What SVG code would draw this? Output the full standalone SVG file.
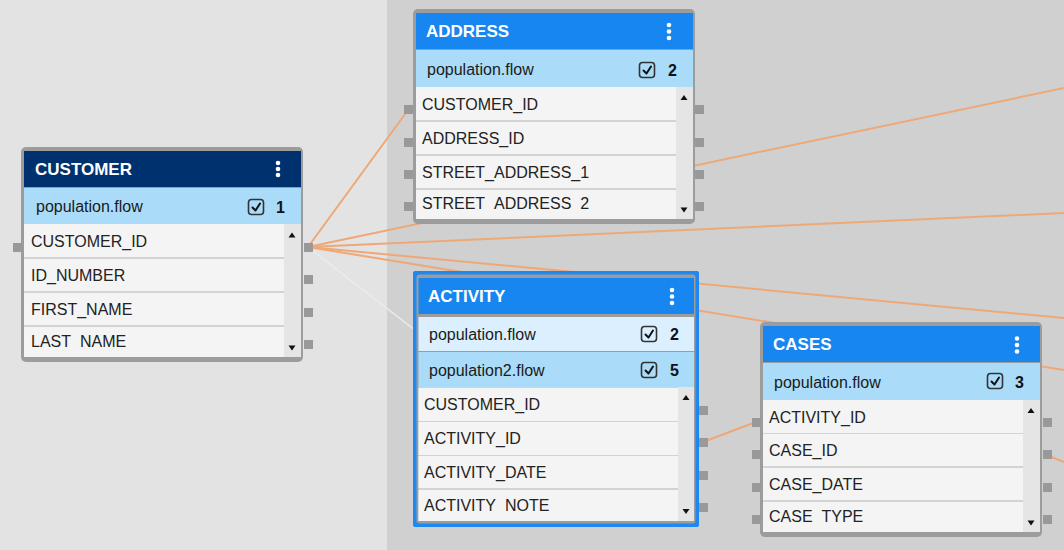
<svg xmlns="http://www.w3.org/2000/svg" width="1064" height="550" viewBox="0 0 1064 550">
<style>
.bgL{fill:#e3e3e3}.bgR{fill:#d0d0d0}
.frame{fill:#9c9c9c}
.hd{fill:#1786f0}.hdk{fill:#00316f}
.flow{fill:#aadcf9}.flow2{fill:#dcefff}
.rowbg{fill:#d3d3d3}.row{fill:#f4f4f4}.scroll{fill:#e5e5e5}
.port{fill:#999999}
.title{font-family:"Liberation Sans",Arial,sans-serif;font-weight:bold;font-size:17px;fill:#ffffff}
.ft{font-family:"Liberation Sans",Arial,sans-serif;font-size:16px;fill:#1a1a1a}
.rt{font-family:"Liberation Sans",Arial,sans-serif;font-size:16px;fill:#222222}
.num{font-family:"Liberation Sans",Arial,sans-serif;font-weight:bold;font-size:16px;fill:#111111}
.cb{fill:none;stroke:#333333;stroke-width:1.6}
.ck{fill:none;stroke:#111111;stroke-width:2;stroke-linecap:round;stroke-linejoin:round}
.dot{fill:#ffffff}
.arr{fill:#111111}
.conn{stroke:#eea878;stroke-width:2;fill:none}
.faint{stroke:#ececec;stroke-width:1.5;fill:none}
</style>
<defs>
<clipPath id="lastRow" clipPathUnits="userSpaceOnUse"><rect x="0" y="180" width="263" height="21"/></clipPath>
<clipPath id="lastRowAct" clipPathUnits="userSpaceOnUse"><rect x="418" y="490" width="260" height="22"/></clipPath>
</defs>
<rect class="bgL" x="0" y="0" width="387" height="550"/>
<rect class="bgR" x="387" y="0" width="677" height="550"/>

<g id="connectors">
<line class="faint" x1="309" y1="248" x2="420" y2="334"/>
<line class="conn" x1="308" y1="247" x2="408" y2="110"/>
<line class="conn" x1="308" y1="247" x2="1064" y2="88"/>
<line class="conn" x1="308" y1="247" x2="1064" y2="213"/>
<line class="conn" x1="308" y1="247" x2="1064" y2="318"/>
<line class="conn" x1="308" y1="247" x2="1064" y2="370"/>
<line class="conn" x1="703" y1="442" x2="756" y2="422"/>
<line class="conn" x1="1047" y1="455" x2="1064" y2="462"/>
</g>

<g id="node-customer" transform="translate(21,147)">
<rect class="frame" x="0" y="0" width="282" height="215" rx="5"/>
<rect class="hdk" x="3" y="4" width="277" height="36"/>
<rect class="flow" x="3" y="41" width="277" height="36"/>
<rect class="rowbg" x="3" y="77" width="277" height="133"/>
<rect class="row" x="3" y="77" width="260" height="33"/>
<rect class="row" x="3" y="112" width="260" height="32"/>
<rect class="row" x="3" y="146" width="260" height="32"/>
<rect class="row" x="3" y="180" width="260" height="30"/>
<rect class="scroll" x="263" y="77" width="17" height="133"/>
<path class="arr" d="M267.5,90.5 L274.5,90.5 L271,85.5 Z"/>
<path class="arr" d="M267.5,198.5 L274.5,198.5 L271,203.5 Z"/>
<text class="title" x="14" y="28">CUSTOMER</text>
<circle class="dot" cx="257" cy="16" r="2.3"/><circle class="dot" cx="257" cy="22" r="2.3"/><circle class="dot" cx="257" cy="28" r="2.3"/>
<text class="ft" x="15" y="65">population.flow</text>
<rect class="cb" x="227.5" y="52.5" width="15" height="15" rx="3"/>
<path class="ck" d="M231.5,60.5 L234.5,63.5 L239,56.5"/>
<text class="num" x="255" y="66">1</text>
<text class="rt" x="10" y="100">CUSTOMER_ID</text>
<text class="rt" x="10" y="134">ID_NUMBER</text>
<text class="rt" x="10" y="168">FIRST_NAME</text>
<text class="rt" x="10" y="200" clip-path="url(#lastRow)">LAST_NAME</text>
<rect class="port" x="-8" y="96" width="9" height="9"/>
<rect class="port" x="283" y="96" width="9" height="9"/>
<rect class="port" x="283" y="128" width="9" height="9"/>
<rect class="port" x="283" y="161" width="9" height="9"/>
<rect class="port" x="283" y="193" width="9" height="9"/>
</g>

<g id="node-address" transform="translate(413,9)">
<rect class="frame" x="0" y="0" width="282" height="215" rx="5"/>
<rect class="hd" x="3" y="4" width="277" height="36"/>
<rect class="flow" x="3" y="41" width="277" height="37"/>
<rect class="rowbg" x="3" y="78" width="277" height="132"/>
<rect class="row" x="3" y="78" width="260" height="33"/>
<rect class="row" x="3" y="113" width="260" height="32"/>
<rect class="row" x="3" y="147" width="260" height="32"/>
<rect class="row" x="3" y="181" width="260" height="29"/>
<rect class="scroll" x="263" y="78" width="17" height="132"/>
<path class="arr" d="M267.5,91 L274.5,91 L271,86 Z"/>
<path class="arr" d="M267.5,198.5 L274.5,198.5 L271,203.5 Z"/>
<text class="title" x="13" y="28">ADDRESS</text>
<circle class="dot" cx="256" cy="16" r="2.3"/><circle class="dot" cx="256" cy="22.5" r="2.3"/><circle class="dot" cx="256" cy="29" r="2.3"/>
<text class="ft" x="14" y="66">population.flow</text>
<rect class="cb" x="226.5" y="53.5" width="15" height="15" rx="3"/>
<path class="ck" d="M230.5,61.5 L233.5,64.5 L238,57.5"/>
<text class="num" x="255" y="67">2</text>
<text class="rt" x="9" y="101">CUSTOMER_ID</text>
<text class="rt" x="9" y="135">ADDRESS_ID</text>
<text class="rt" x="9" y="169">STREET_ADDRESS_1</text>
<text class="rt" x="9" y="200" clip-path="url(#lastRow)">STREET_ADDRESS_2</text>
<rect class="port" x="-9" y="96" width="9" height="9"/>
<rect class="port" x="-9" y="129" width="9" height="9"/>
<rect class="port" x="-9" y="161" width="9" height="9"/>
<rect class="port" x="-9" y="193" width="9" height="9"/>
<rect class="port" x="282" y="96" width="9" height="9"/>
<rect class="port" x="282" y="129" width="9" height="9"/>
<rect class="port" x="282" y="161" width="9" height="9"/>
<rect class="port" x="282" y="193" width="9" height="9"/>
</g>

<g id="node-activity">
<rect x="413" y="271" width="286" height="256" rx="2" fill="#1e88f0"/>
<rect class="frame" x="416.5" y="274.5" width="279" height="249" rx="3"/>
<rect class="hd" x="418.5" y="278" width="275.5" height="36"/>
<rect class="flow2" x="418.5" y="317" width="275.5" height="34"/>
<rect class="flow" x="418.5" y="352" width="275.5" height="35"/>
<rect class="rowbg" x="418.5" y="387" width="275.5" height="134"/>
<rect class="row" x="418.5" y="388" width="259.5" height="33"/>
<rect class="row" x="418.5" y="422" width="259.5" height="33"/>
<rect class="row" x="418.5" y="456" width="259.5" height="32"/>
<rect class="row" x="418.5" y="490" width="259.5" height="31"/>
<rect class="scroll" x="678" y="387" width="16" height="134"/>
<path class="arr" d="M682.5,400 L689.5,400 L686,395 Z"/>
<path class="arr" d="M682.5,509 L689.5,509 L686,514 Z"/>
<text class="title" x="428" y="302">ACTIVITY</text>
<circle class="dot" cx="672" cy="290" r="2.3"/><circle class="dot" cx="672" cy="296.5" r="2.3"/><circle class="dot" cx="672" cy="303" r="2.3"/>
<text class="ft" x="429" y="340">population.flow</text>
<rect class="cb" x="641.5" y="326.5" width="15" height="15" rx="3"/>
<path class="ck" d="M645.5,334.5 L648.5,337.5 L653,330.5"/>
<text class="num" x="670" y="340">2</text>
<text class="ft" x="429" y="376">population2.flow</text>
<rect class="cb" x="641.5" y="362.5" width="15" height="15" rx="3"/>
<path class="ck" d="M645.5,370.5 L648.5,373.5 L653,366.5"/>
<text class="num" x="670" y="376">5</text>
<text class="rt" x="424" y="410">CUSTOMER_ID</text>
<text class="rt" x="424" y="444">ACTIVITY_ID</text>
<text class="rt" x="424" y="478">ACTIVITY_DATE</text>
<text class="rt" x="424" y="511" clip-path="url(#lastRowAct)">ACTIVITY_NOTE</text>
<rect class="port" x="699" y="406" width="9" height="9"/>
<rect class="port" x="699" y="438" width="9" height="9"/>
<rect class="port" x="699" y="471" width="9" height="9"/>
<rect class="port" x="699" y="503" width="9" height="9"/>
</g>

<g id="node-cases" transform="translate(760,322)">
<rect class="frame" x="0" y="0" width="282" height="215" rx="5"/>
<rect class="hd" x="3" y="4" width="277" height="36"/>
<rect class="flow" x="3" y="41" width="277" height="37"/>
<rect class="rowbg" x="3" y="78" width="277" height="132"/>
<rect class="row" x="3" y="78" width="260" height="33"/>
<rect class="row" x="3" y="112" width="260" height="32"/>
<rect class="row" x="3" y="146" width="260" height="32"/>
<rect class="row" x="3" y="180" width="260" height="30"/>
<rect class="scroll" x="263" y="78" width="17" height="132"/>
<path class="arr" d="M267.5,91 L274.5,91 L271,86 Z"/>
<path class="arr" d="M267.5,198.5 L274.5,198.5 L271,203.5 Z"/>
<text class="title" x="13" y="28">CASES</text>
<circle class="dot" cx="257" cy="16.5" r="2.3"/><circle class="dot" cx="257" cy="23" r="2.3"/><circle class="dot" cx="257" cy="29.5" r="2.3"/>
<text class="ft" x="14" y="66">population.flow</text>
<rect class="cb" x="227.5" y="51.5" width="15" height="15" rx="3"/>
<path class="ck" d="M231.5,59.5 L234.5,62.5 L239,55.5"/>
<text class="num" x="255" y="66">3</text>
<text class="rt" x="9" y="101">ACTIVITY_ID</text>
<text class="rt" x="9" y="134">CASE_ID</text>
<text class="rt" x="9" y="168">CASE_DATE</text>
<text class="rt" x="9" y="200" clip-path="url(#lastRow)">CASE_TYPE</text>
<rect class="port" x="-8" y="96" width="9" height="9"/>
<rect class="port" x="-8" y="128" width="9" height="9"/>
<rect class="port" x="-8" y="161" width="9" height="9"/>
<rect class="port" x="-8" y="193" width="9" height="9"/>
<rect class="port" x="283" y="96" width="9" height="9"/>
<rect class="port" x="283" y="128" width="9" height="9"/>
<rect class="port" x="283" y="161" width="9" height="9"/>
<rect class="port" x="283" y="193" width="9" height="9"/>
</g>
</svg>
